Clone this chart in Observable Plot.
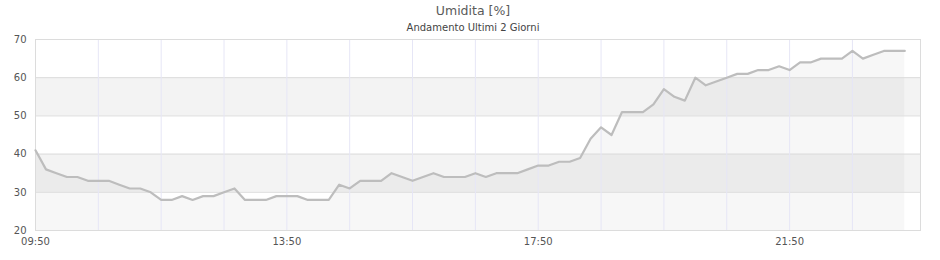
<!DOCTYPE html>
<html>
<head>
<meta charset="utf-8">
<script src="https://cdn.jsdelivr.net/npm/d3@7"></script>
<script src="https://cdn.jsdelivr.net/npm/@observablehq/plot@0.6"></script>
<style>
  html, body { margin: 0; padding: 0; background: #fff; }
  body { width: 940px; height: 260px; overflow: hidden; font-family: "DejaVu Sans", sans-serif; }
  #title { padding-top: 2px; height: 18px; line-height: 18px; text-align: center; font-size: 12.5px; color: #5a5a5a; padding-left: 6px; }
  #subtitle { height: 14px; line-height: 15px; text-align: center; font-size: 10px; color: #444; padding-left: 6px; }
</style>
</head>
<body>
<div id="title">Umidita [%]</div>
<div id="subtitle">Andamento Ultimi 2 Giorni</div>
<div id="chart"></div>
<script>
// ---- data ----
const startLabel = "09:50";
const endLabel = "23:55";
const stepMinutes = 10;
const humidity = [
  41, 36, 35, 34, 34, 33, 33, 33, 32, 31,
  31, 30, 28, 28, 29, 28, 29, 29, 30, 31,
  28, 28, 28, 29, 29, 29, 28, 28, 28, 32,
  31, 33, 33, 33, 35, 34, 33, 34, 35, 34,
  34, 34, 35, 34, 35, 35, 35, 36, 37, 37,
  38, 38, 39, 44, 47, 45, 51, 51, 51, 53,
  57, 55, 54, 60, 58, 59, 60, 61, 61, 62,
  62, 63, 62, 64, 64, 65, 65, 65, 67, 65,
  66, 67, 67, 67
];
const xTickLabels = ["09:50", "13:50", "17:50", "21:50"];
const yTicks = [20, 30, 40, 50, 60, 70];
const bandStarts = [30, 50];
const bandSize = 10;

// ---- build ----
const parseHM = d3.utcParse("%H:%M");
const start = parseHM(startLabel);
const end = parseHM(endLabel);
const data = humidity.map((v, i) => ({ t: d3.utcMinute.offset(start, i * stepMinutes), v }));
const xTicks = xTickLabels.map(parseHM);
const hourGrid = d3.utcHour.range(start, end).map((d, i) => d3.utcHour.offset(start, i));
const bands = bandStarts.map(b => ({ y1: b, y2: b + bandSize }));
const yMin = d3.min(yTicks), yMax = d3.max(yTicks);

const chart = Plot.plot({
  width: 940,
  height: 226,
  marginTop: 5,
  marginBottom: 30,
  marginLeft: 35,
  marginRight: 20,
  style: { fontFamily: "DejaVu Sans, sans-serif", fontSize: "10px", color: "#555", background: "#fff" },
  x: { type: "utc", domain: [start, end] },
  y: { domain: [yMin, yMax] },
  marks: [
    Plot.rectY(bands, { y1: "y1", y2: "y2", x1: start, x2: end, fill: "#f3f3f3" }),
    Plot.areaY(data, { x: "t", y1: yMin, y2: "v", fill: "#000", fillOpacity: 0.03 }),
    Plot.ruleY(yTicks, { stroke: "#dcdcdc", strokeWidth: 1 }),
    Plot.ruleX(hourGrid, { stroke: "#e6e6f6", strokeWidth: 1 }),
    Plot.frame({ stroke: "#dcdcdc" }),
    Plot.lineY(data, { x: "t", y: "v", stroke: "#bdbdbd", strokeWidth: 2.2 }),
    Plot.axisY({ ticks: yTicks, tickSize: 0, tickPadding: 9, label: null }),
    Plot.axisX({ ticks: xTicks, tickSize: 0, tickPadding: 7, tickFormat: d3.utcFormat("%H:%M"), label: null })
  ]
});
document.getElementById("chart").appendChild(chart);
</script>
</body>
</html>
